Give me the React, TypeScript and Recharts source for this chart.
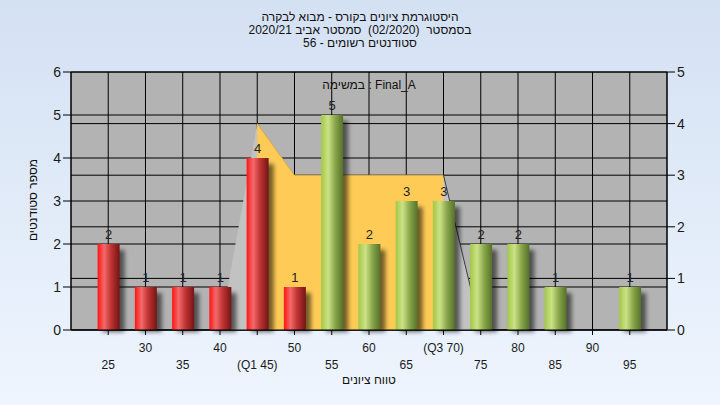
import React from "react";
import {
  ComposedChart,
  Bar,
  Area,
  XAxis,
  YAxis,
  CartesianGrid,
  LabelList,
} from "recharts";

// grade buckets
const categories = ["25", "30", "35", "40", "45", "50", "55", "60", "65", "70", "75", "80", "85", "90", "95"];
const tickLabels = ["25", "30", "35", "40", "(Q1 45)", "50", "55", "60", "65", "(Q3 70)", "75", "80", "85", "90", "95"];
// students per bucket
const counts = [2, 1, 1, 1, 4, 1, 5, 2, 3, 3, 2, 2, 1, 0, 1];
// distribution shape (right axis)
const spread = [null, null, null, 0, 4, 3, 3, 3, 3, 3, 0, null, null, null, null];
const quartileBand = [null, null, null, null, 4, 3, 3, 3, 3, 3, null, null, null, null, null];
const tail = [null, null, null, null, null, null, null, null, null, 3, 0, null, null, null, null];

const PASS_MARK = 55;
const FONT = "'Liberation Sans', Arial, sans-serif";

const data = categories.map((cat, i) => ({
  cat,
  label: tickLabels[i],
  count: counts[i],
  spread: spread[i],
  band: quartileBand[i],
  tail: tail[i],
}));

function BarShape(props: any) {
  const { x, y, width, height, payload } = props;
  if (!height || height <= 0) return null;
  const fill = Number(payload.cat) >= PASS_MARK ? "url(#gradGreen)" : "url(#gradRed)";
  return (
    <g>
      <rect
        x={x + 5}
        y={y + 6}
        width={width}
        height={height - 4}
        fill="#000"
        opacity={0.55}
        filter="url(#shadowBlur)"
      />
      <rect x={x} y={y} width={width} height={height} fill={fill} />
    </g>
  );
}

function XTick(props: any) {
  const { x, y, payload, index } = props;
  const lower = index % 2 === 0;
  return (
    <text
      x={x}
      y={y + (lower ? 32 : 15)}
      textAnchor="middle"
      fontSize={12}
      fontFamily={FONT}
      fill="#1a1a1a"
    >
      {tickLabels[index] ?? payload.value}
    </text>
  );
}

export default function App() {
  return (
    <div
      style={{
        position: "absolute",
        left: 0,
        top: 0,
        width: 720,
        height: 405,
        background: "linear-gradient(to bottom, #d4e1f3 0%, #eef5fe 100%)",
        fontFamily: FONT,
        overflow: "hidden",
      }}
    >
      <div
        dir="rtl"
        style={{
          position: "absolute",
          top: 11,
          left: 0,
          width: 720,
          textAlign: "center",
          fontSize: 12,
          lineHeight: "13px",
          color: "#111",
        }}
      >
        <div>היסטוגרמת ציונים בקורס - מבוא לבקרה</div>
        <div>בסמסטר&nbsp; (02/2020)&nbsp; סמסטר אביב 2020/21</div>
        <div>סטודנטים רשומים - 56</div>
      </div>

      <ComposedChart
        width={720}
        height={405}
        data={data}
        margin={{ top: 72, right: 13, bottom: 35, left: 21 }}
        barSize={22}
        style={{ position: "absolute", left: 0, top: 0 }}
      >
        <defs>
          <linearGradient id="gradRed" x1="0" y1="0" x2="1" y2="0">
            <stop offset="0%" stopColor="#ff1414" />
            <stop offset="30%" stopColor="#f26a6a" />
            <stop offset="60%" stopColor="#c23434" />
            <stop offset="100%" stopColor="#741414" />
          </linearGradient>
          <linearGradient id="gradGreen" x1="0" y1="0" x2="1" y2="0">
            <stop offset="0%" stopColor="#a3c846" />
            <stop offset="32%" stopColor="#cbe286" />
            <stop offset="65%" stopColor="#87a448" />
            <stop offset="100%" stopColor="#55712a" />
          </linearGradient>
          <filter id="shadowBlur" x="-50%" y="-20%" width="200%" height="140%">
            <feGaussianBlur stdDeviation="2.2" />
          </filter>
        </defs>
        <CartesianGrid
          yAxisId="left"
          stroke="#000"
          strokeOpacity={1}
          fill="#b3b3b3"
          fillOpacity={1}
        />
        <CartesianGrid yAxisId="right" stroke="#000" vertical={false} />
        <XAxis
          dataKey="cat"
          interval={0}
          height={40}
          padding={{ left: 18.6, right: 18.6 }}
          tick={<XTick />}
          tickSize={5}
          axisLine={{ stroke: "#000" }}
          tickLine={{ stroke: "#000" }}
        />
        <YAxis
          yAxisId="left"
          orientation="left"
          width={50}
          domain={[0, 6]}
          ticks={[0, 1, 2, 3, 4, 5, 6]}
          tickSize={8}
          tickMargin={2}
          tick={{ fontSize: 14, fill: "#1a1a1a", fontFamily: FONT }}
          axisLine={{ stroke: "#000" }}
          tickLine={{ stroke: "#000" }}
        />
        <YAxis
          yAxisId="right"
          orientation="right"
          width={40}
          domain={[0, 5]}
          ticks={[0, 1, 2, 3, 4, 5]}
          tickSize={8}
          tickMargin={2}
          tick={{ fontSize: 14, fill: "#1a1a1a", fontFamily: FONT }}
          axisLine={{ stroke: "#000" }}
          tickLine={{ stroke: "#000" }}
        />
        <Area
          yAxisId="right"
          type="linear"
          dataKey="spread"
          fill="#c2c2c2"
          fillOpacity={1}
          stroke="none"
          isAnimationActive={false}
        />
        <Area
          yAxisId="right"
          type="linear"
          dataKey="band"
          fill="#fecb56"
          fillOpacity={1}
          stroke="#c8a040"
          strokeWidth={0.8}
          isAnimationActive={false}
        />
        <Area
          yAxisId="right"
          type="linear"
          dataKey="tail"
          fill="none"
          fillOpacity={0}
          stroke="#3c3c3c"
          strokeWidth={1}
          dot={false}
          activeDot={false}
          isAnimationActive={false}
        />
        <Bar yAxisId="left" dataKey="count" shape={<BarShape />} isAnimationActive={false}>
          <LabelList
            dataKey="count"
            position="top"
            offset={5}
            formatter={(v: any) => (v ? v : "")}
            style={{ fontSize: 13, fill: "#222", fontFamily: FONT }}
          />
        </Bar>
      </ComposedChart>

      <div
        style={{
          position: "absolute",
          top: 78,
          left: 0,
          width: 738,
          textAlign: "center",
          fontSize: 12,
          color: "#111",
        }}
      >
        במשימה : Final_A
      </div>
      <div
        style={{
          position: "absolute",
          top: 373,
          left: 0,
          width: 738,
          textAlign: "center",
          fontSize: 12,
          color: "#111",
        }}
      >
        טווח ציונים
      </div>
      <div
        style={{
          position: "absolute",
          left: -17,
          top: 193,
          width: 100,
          textAlign: "center",
          fontSize: 12,
          color: "#111",
          transform: "rotate(-90deg)",
        }}
      >
        מספר סטודנטים
      </div>
    </div>
  );
}
